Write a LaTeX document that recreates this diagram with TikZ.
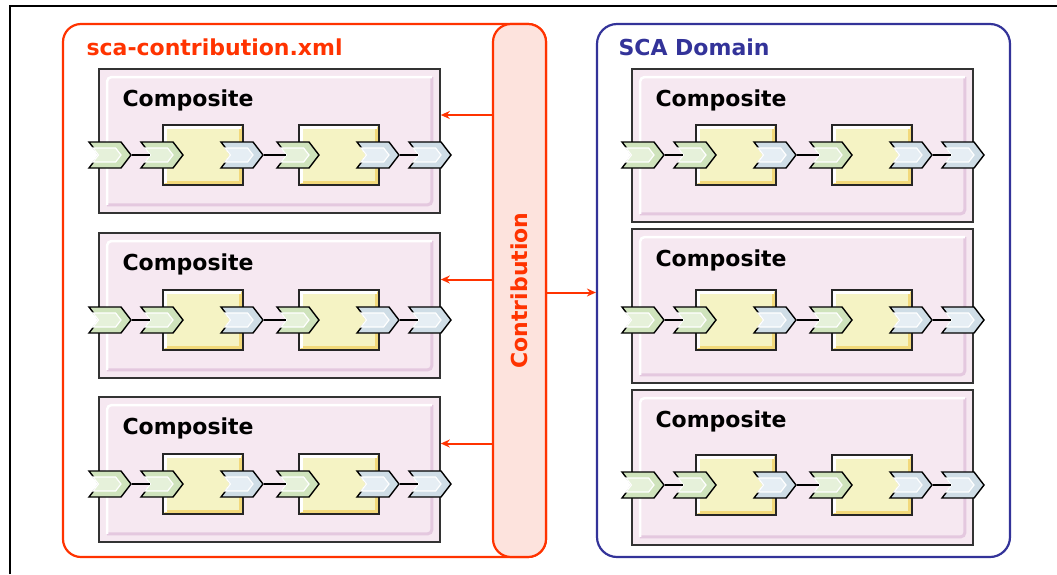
\documentclass[tikz,border=0pt]{standalone}
\usepackage{fontspec}
\setmainfont{DejaVu Sans}
\usepackage{tikz}
\usetikzlibrary{shapes.symbols,arrows.meta}
\definecolor{scared}{HTML}{FF3300}
\definecolor{contribfill}{HTML}{FDE3DD}
\definecolor{domainblue}{HTML}{333399}
\definecolor{compfill}{HTML}{F6E8F1}
\definecolor{compshade}{HTML}{E4C8DF}
\definecolor{partfill}{HTML}{F5F3C4}
\definecolor{partshade}{HTML}{F2D97A}
\definecolor{svcfill}{HTML}{CFE3BC}
\definecolor{svclight}{HTML}{E6F1DA}
\definecolor{reffill}{HTML}{CFDDE6}
\definecolor{reflight}{HTML}{E6EEF4}

\tikzset{
  holder/.style={line width=2.2pt, rounded corners=18pt, inner sep=0pt},
  title/.style={anchor=west, font=\bfseries\fontsize{22}{25}\selectfont},
  composite/.style={draw=black!80, line width=1.6pt, fill=compfill,
    minimum width=341pt, inner sep=0pt},
  part/.style={draw=black!85, line width=1.4pt, fill=partfill,
    minimum width=80pt, minimum height=60pt, inner sep=0pt},
  chev/.style={signal, signal to=east, signal from=west, draw=black,
    line width=1.4pt, minimum width=42pt, minimum height=26pt,
    inner sep=0pt, signal pointer angle=105},
  chevhi/.style={signal, signal to=east, signal from=west, draw=white,
    line width=1.2pt, minimum width=28pt, minimum height=14pt,
    inner sep=0pt, signal pointer angle=105},
  svc/.style={chev, fill=svcfill},
  ref/.style={chev, fill=reffill},
  svchi/.style={chevhi, fill=svclight},
  refhi/.style={chevhi, fill=reflight},
  wire/.style={line width=1.3pt},
  feed/.style={scared, line width=2pt, -{Stealth[length=9pt,width=8pt]}}
}

\begin{document}
\begin{tikzpicture}[x=1pt, y=-1pt]
    \useasboundingbox (0,0) rectangle (1057,574);
    \draw[line width=1.5pt] (10,574) -- (10,6) -- (1057,6);

    % containers
    \node[holder, draw=scared, minimum width=483pt, minimum height=533pt] (contrib) at (304.5,290.5) {};
    \node[holder, draw=scared, fill=contribfill, minimum width=53pt, minimum height=533pt] (bar) at (519.5,290.5) {};
    \node[holder, draw=domainblue, rounded corners=20pt, minimum width=413pt, minimum height=533pt] (domain) at (803.5,290.5) {};
    \node[title, text=scared] (contribtitle) at (83,47) {sca-contribution.xml};
    \node[title, text=domainblue] (domaintitle) at (615,47) {SCA Domain};
    \node[rotate=90, text=scared, font=\bfseries\fontsize{22}{25}\selectfont] (bartext) at (bar) {Contribution};

    % composites: name / left / top / bottom / row
    \foreach \n/\x/\t/\b/\r in {cl1/99/69/213/155, cl2/99/233/378/320, cl3/99/397/542/484,
                                 cr1/632/69/222/155, cr2/632/229/383/320, cr3/632/390/545/485} {
        \node[composite, minimum height={(\b-\t)*1pt}] (\n) at ({\x+170.5},{(\t+\b)/2}) {};
        \draw[compshade, line width=3pt, rounded corners=4pt]
            ([shift={(-9,9)}]\n.north east) -- ([shift={(-9,-9)}]\n.south east) -- ([shift={(9,-9)}]\n.south west);
        \draw[white, line width=2.5pt, rounded corners=4pt]
            ([shift={(9,-9)}]\n.south west) -- ([shift={(9,9)}]\n.north west) -- ([shift={(-9,9)}]\n.north east);
        \node[anchor=west, font=\bfseries\fontsize{22}{25}\selectfont] (\n-name) at ({\x+20},{\t+31}) {Composite};

        % components
        \foreach \c/\dx in {a/104, b/240} {
            \node[part] (\n-\c) at ({\x+\dx},\r) {};
            \draw[partshade, line width=3.5pt]
                ([shift={(-3,3)}]\n-\c.north east) -- ([shift={(-3,-3)}]\n-\c.south east) -- ([shift={(3,-3)}]\n-\c.south west);
            \draw[white, line width=2.5pt]
                ([shift={(3,-3)}]\n-\c.south west) -- ([shift={(3,3)}]\n-\c.north west) -- ([shift={(-3,3)}]\n-\c.north east);
        }

        % services and references
        \foreach \k/\dx/\kind in {1/11/svc, 2/63/svc, 3/143/ref, 4/199/svc, 5/279/ref, 6/331/ref} {
            \node[\kind] (\n-p\k) at ({\x+\dx},\r) {};
            \node[\kind hi] (\n-p\k-hi) at ([xshift=-3pt]\n-p\k.center) {};
        }
        \draw[wire] (\n-p1.east) -- (\n-p2.west);
        \draw[wire] (\n-p3.east) -- (\n-p4.west);
        \draw[wire] (\n-p5.east) -- (\n-p6.west);
    }

    % contribution arrows
    \foreach \n in {cl1, cl2, cl3} {
        \coordinate (\n-in) at ([yshift=26pt]\n.east);
        \draw[feed] (bar.west |- \n-in) -- (\n-in);
    }
    \draw[feed] ([yshift=-2pt]bar.east) -- ([yshift=-2pt]bar.east -| domain.west);
\end{tikzpicture}
\end{document}
